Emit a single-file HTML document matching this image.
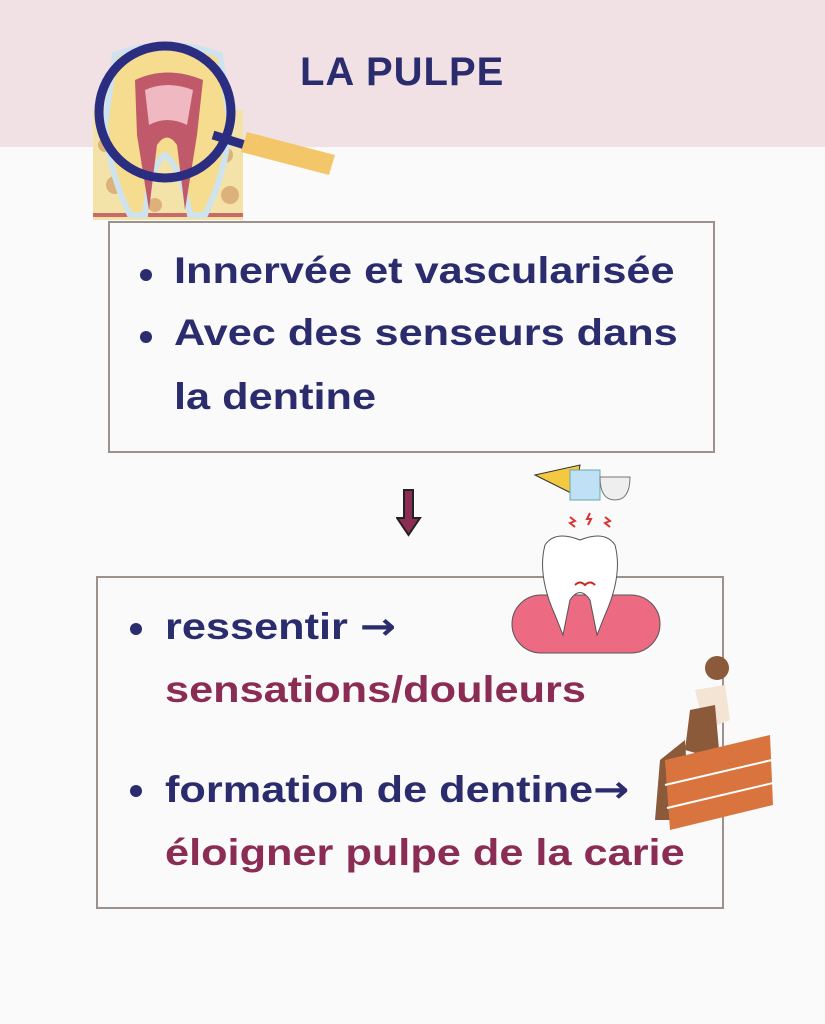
<!DOCTYPE html>
<html><head><meta charset="utf-8"><style>
body{margin:0;width:825px;height:1024px;background:#fafafa;position:relative;overflow:hidden;font-family:"Liberation Sans",sans-serif;font-weight:bold}
.hdr{position:absolute;left:0;top:0;width:825px;height:147px;background:#f1e1e4}
.t{position:absolute;white-space:nowrap;color:#2b2c6e;transform-origin:0 50%;transform:scaleX(1.17);font-size:37px}
.box{position:absolute;border:2px solid #9d918c}
.m{color:#8b2c54}
.ar{font-family:"DejaVu Sans",sans-serif;font-weight:bold}
.dot{position:absolute;width:12px;height:12px;border-radius:50%;background:#2b2c6e}
</style></head><body>
<div class="hdr"></div>
<div class="t" style="left:300px;top:50px;font-size:40px;letter-spacing:1px;transform:none">LA PULPE</div>
<svg style="position:absolute;left:85px;top:35px" width="260" height="195">
<rect x="8" y="75" width="150" height="110" fill="#f3e3a8"/>
<g fill="#dcb17a"><circle cx="20" cy="110" r="7"/><circle cx="30" cy="150" r="9"/><circle cx="140" cy="120" r="8"/><circle cx="145" cy="160" r="9"/><circle cx="70" cy="170" r="7"/><circle cx="110" cy="172" r="6"/></g>
<rect x="8" y="178" width="150" height="4" fill="#c86a6a"/>
<path d="M30 20 Q80 0 135 20 L145 90 Q140 140 120 180 L105 180 Q95 130 80 120 Q65 130 60 180 L45 180 Q25 140 20 90Z" fill="#f6dc8e" stroke="#cfe3ee" stroke-width="6"/>
<path d="M50 45 Q82 30 118 45 L112 100 L100 175 L92 110 Q82 95 72 110 L64 175 L52 100Z" fill="#c05a6a"/>
<path d="M60 55 Q82 45 108 55 L102 90 Q82 80 64 90Z" fill="#f0b8c0"/>
<circle cx="80" cy="77" r="66" fill="none" stroke="#2a2d80" stroke-width="9"/>
<line x1="128" y1="100" x2="160" y2="110" stroke="#2a2d80" stroke-width="9"/>
<path d="M162 97 L250 120 L244 140 L156 117Z" fill="#f4c66a"/>
</svg>
<div class="box" style="left:108px;top:221px;width:603px;height:228px"></div>
<div class="dot" style="left:140px;top:269px"></div>
<div class="dot" style="left:140px;top:331px"></div>
<div class="t" style="left:174px;top:250px">Innervée et vascularisée</div>
<div class="t" style="left:174px;top:312px">Avec des senseurs dans</div>
<div class="t" style="left:174px;top:376px">la dentine</div>
<svg style="position:absolute;left:396px;top:488px" width="26" height="50"><path d="M8 2 H17 V30 H24 L12.5 47 L1 30 H8Z" fill="#8b2c54" stroke="#222" stroke-width="2"/></svg>
<div class="box" style="left:96px;top:576px;width:624px;height:329px"></div>
<div class="dot" style="left:130px;top:623px"></div>
<div class="dot" style="left:130px;top:785px"></div>
<div class="t" style="left:165px;top:605px">ressentir <span class="ar">→</span></div>
<div class="t m" style="left:165px;top:669px">sensations/douleurs</div>
<div class="t" style="left:165px;top:768px">formation de dentine<span class="ar">→</span></div>
<div class="t m" style="left:165px;top:832px">éloigner pulpe de la carie</div>
<svg style="position:absolute;left:505px;top:455px" width="160" height="205">
<path d="M30 20 L75 10 L70 40Z" fill="#f5c842" stroke="#333"/>
<rect x="65" y="15" width="30" height="30" fill="#bfe0f5" stroke="#6aa"/>
<path d="M95 22 H125 Q125 45 110 45 Q95 45 95 22Z" fill="#eee" stroke="#777"/>
<path d="M65 62 l5 4 -5 2 5 4 M85 58 l-3 6 4 0 -3 6 M100 62 l5 4 -5 2 5 4" stroke="#d33" fill="none" stroke-width="2"/>
<rect x="7" y="140" width="148" height="58" rx="29" fill="#ec6a82" stroke="#555"/>
<path d="M40 90 Q50 75 75 85 Q100 75 110 90 Q118 120 100 160 L92 180 L85 145 Q75 130 65 145 L58 180 L50 160 Q32 120 40 90Z" fill="#fff" stroke="#555"/>
<path d="M70 130 q5 -5 10 0 q5 -5 10 0" stroke="#c22" fill="none" stroke-width="2"/>
</svg>
<svg style="position:absolute;left:645px;top:650px" width="130" height="180">
<circle cx="72" cy="18" r="12" fill="#8b5a3a"/>
<path d="M50 40 L80 35 L85 70 L60 80Z" fill="#f3e4d3"/>
<path d="M45 60 L70 55 L75 110 L40 100Z" fill="#8b5a3a"/>
<path d="M15 110 L40 90 L45 170 L10 170Z" fill="#8b5a3a"/>
<path d="M20 110 L125 85 L128 155 L25 180Z" fill="#d9743e"/>
<g stroke="#fff" stroke-width="2"><line x1="20" y1="135" x2="127" y2="110"/><line x1="22" y1="158" x2="128" y2="133"/></g>
</svg>
</body></html>
